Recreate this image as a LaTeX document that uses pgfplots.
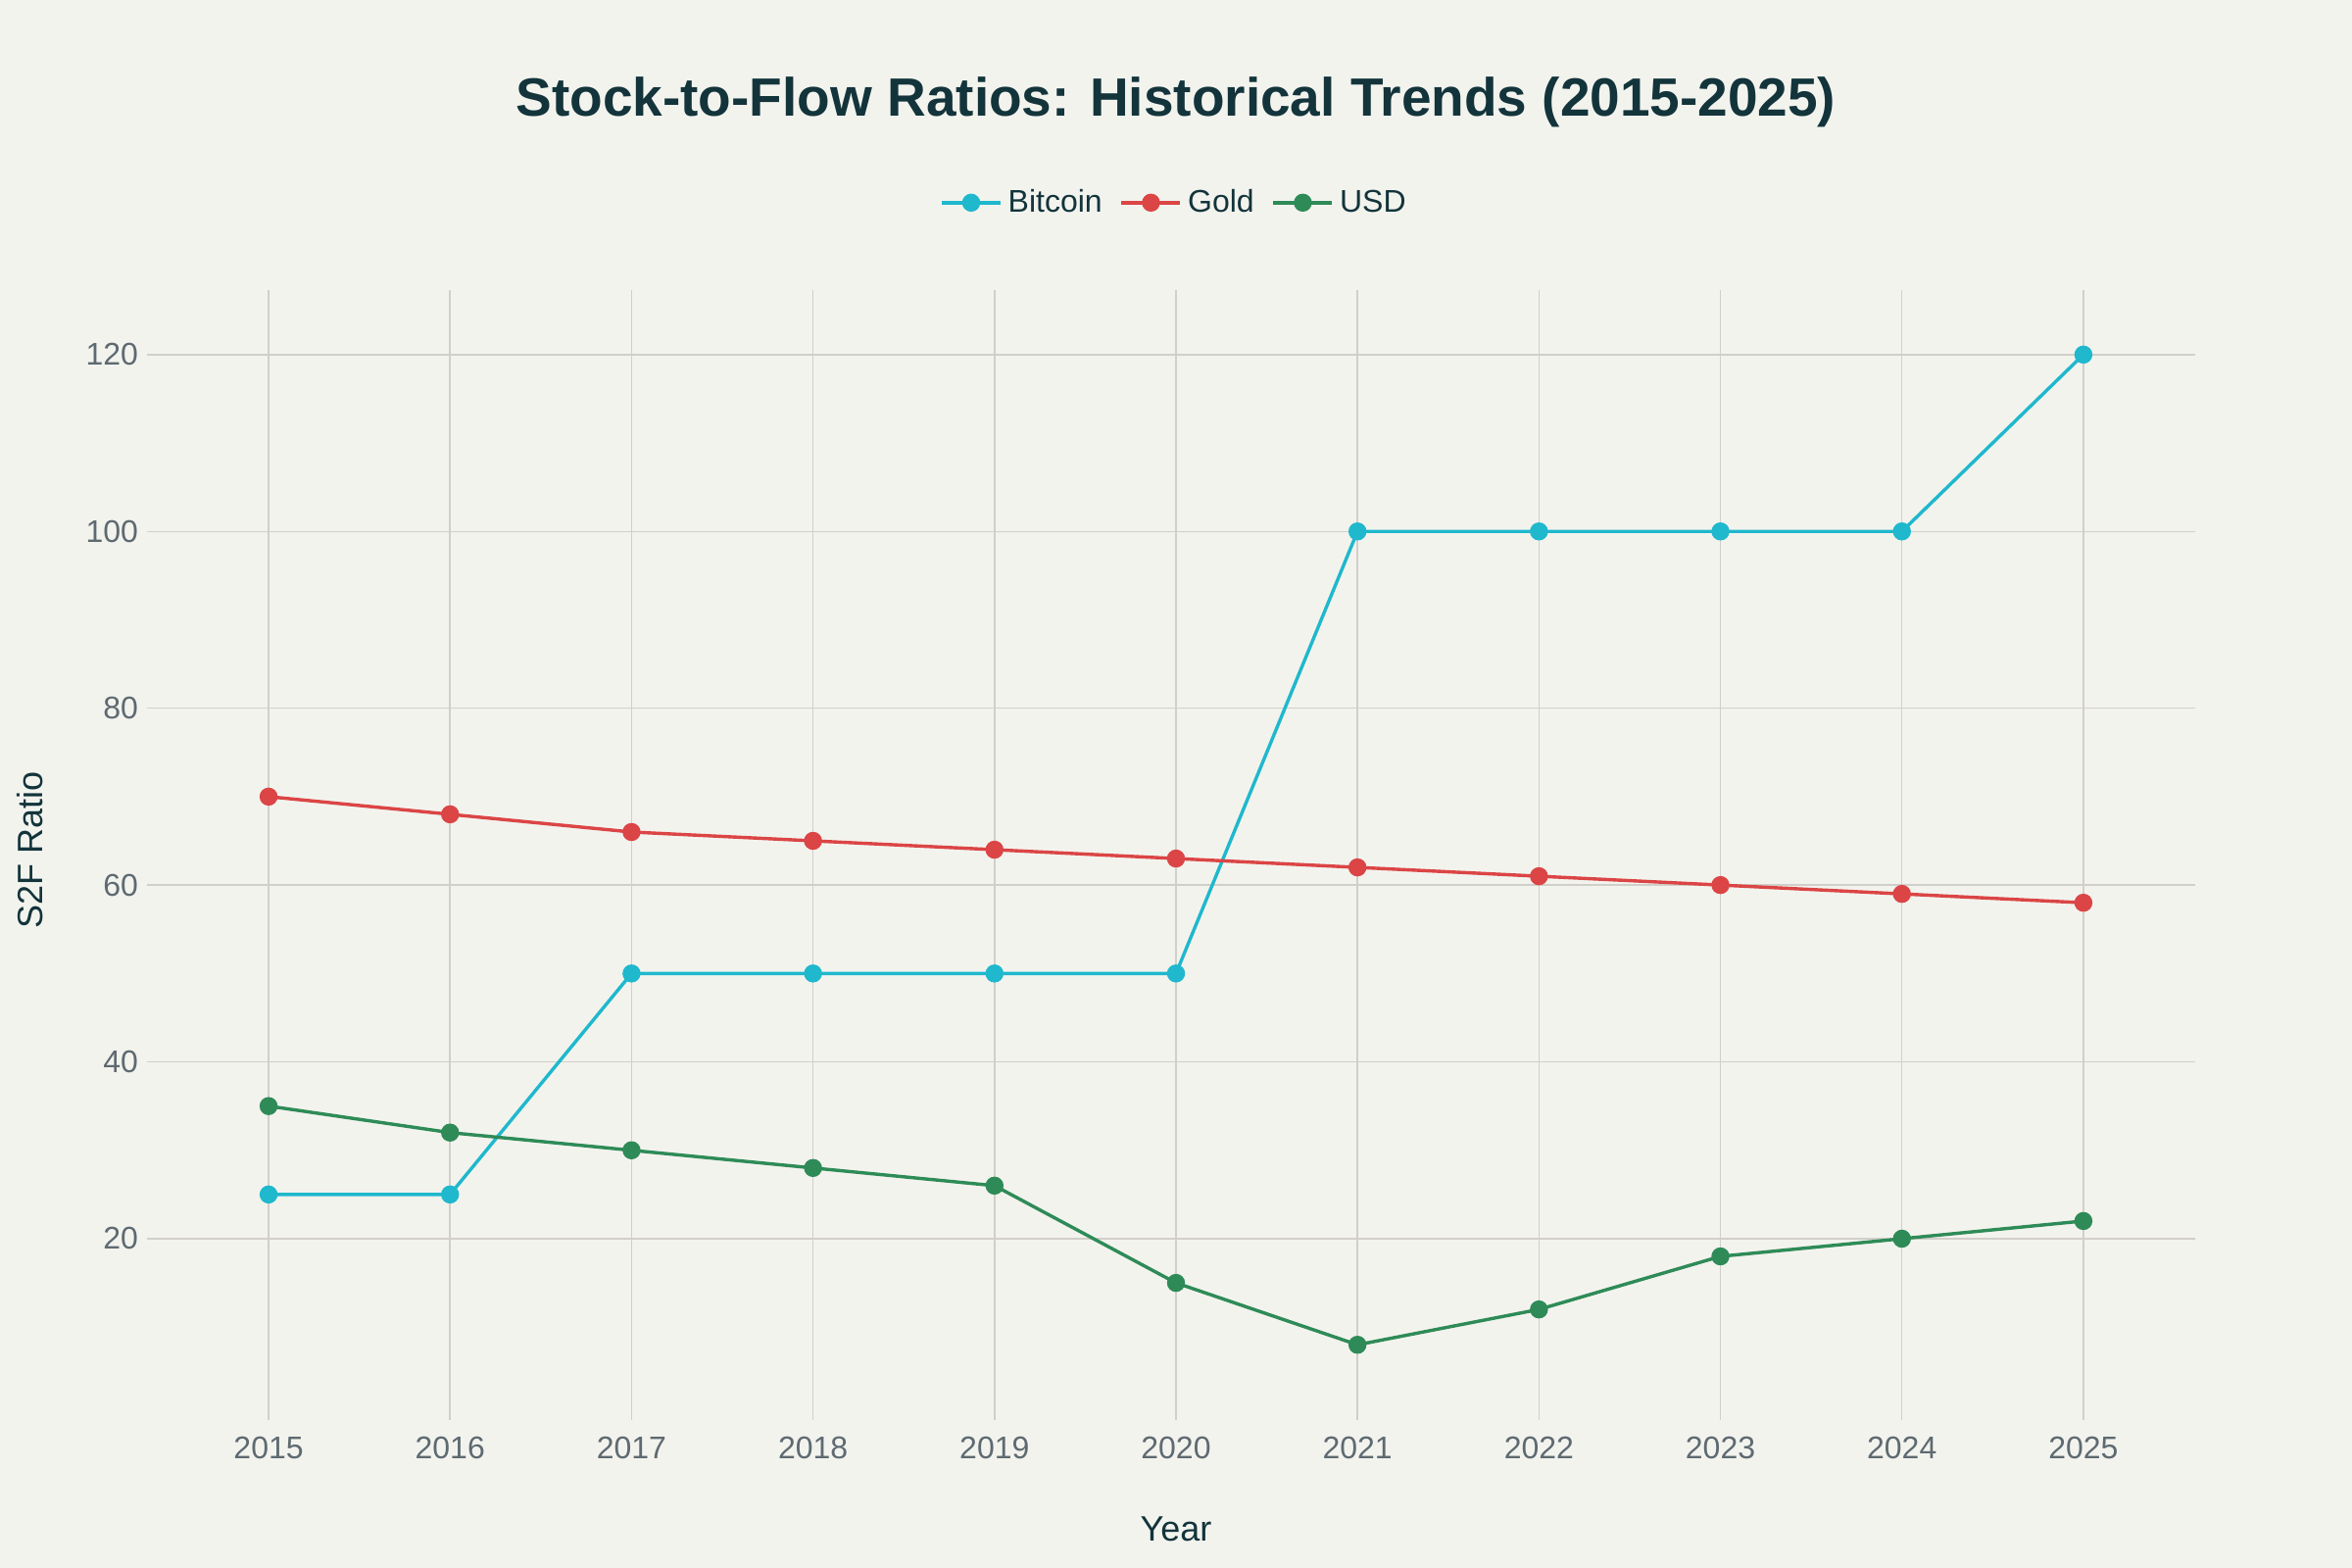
\documentclass[border=0pt]{standalone}
\usepackage{pgfplots}
\pgfplotsset{compat=1.18}
\usepackage{fontspec}
\setmainfont{Liberation Sans}

\definecolor{bg}{HTML}{F3F3EE}
\definecolor{btc}{HTML}{1FB8CD}
\definecolor{gold}{HTML}{DB4545}
\definecolor{usd}{HTML}{2E8B57}
\definecolor{titlec}{HTML}{13343B}
\definecolor{tickc}{HTML}{5E6A71}
\definecolor{gridc}{HTML}{D1CFCA}

\begin{document}
\begin{tikzpicture}
\path[use as bounding box, fill=bg] (0pt,0pt) rectangle (1200pt,800pt);
\begin{axis}[
  at={(80pt,80.5pt)}, anchor=south west,
  scale only axis, width=1040pt, height=571.5pt,
  xmin=2014.384, xmax=2025.616,
  ymin=0.6, ymax=127.3,
  xtick={2015,2016,...,2025},
  ytick={20,40,...,120},
  xtick pos=bottom, ytick pos=left,
  tick align=outside, major tick length=5pt,
  major tick style={draw=gridc, line width=0.75pt},
  axis line style={draw=none},
  grid=major,
  major grid style={draw=gridc, line width=0.75pt},
  tick label style={font=\fontsize{16}{18}\selectfont, text=tickc},
  /pgf/number format/assume math mode=true,
  x tick label style={/pgf/number format/1000 sep={}, yshift=-5pt},
  yticklabel style={xshift=-1pt},
  title={\fontsize{27.5}{32}\selectfont\bfseries Stock-to-Flow Ratios: Historical Trends (2015-2025)},
  title style={at={(axis description cs:0.5,1.157)}, anchor=center, yshift=0pt, text=titlec},
  xlabel={Year}, ylabel={S2F Ratio},
  every axis x label/.style={at={(axis description cs:0.5,-0.1059)}, anchor=center, font=\fontsize{18}{20}\selectfont, text=titlec},
  every axis y label/.style={at={(axis description cs:-0.062,0.5)}, anchor=center, rotate=90, font=\fontsize{18}{20}\selectfont, text=titlec},
  legend style={at={(axis description cs:0.5,1.078)}, anchor=center, draw=none, fill=none,
    legend columns=-1, font=\fontsize{16}{18}\selectfont, text=titlec,
    /tikz/every even column/.append style={column sep=6pt},
    nodes={inner xsep=3pt}},
  legend image code/.code={\draw[mark repeat=2, mark phase=2, #1] plot coordinates {(0pt,0pt) (15pt,0pt) (30pt,0pt)};},
  every axis plot/.append style={line width=1.7pt, mark=*, mark size=3.75pt, mark options={solid, line width=0pt}},
]
\addplot[btc, mark options={fill=btc, draw=btc}] coordinates {
(2015,25) (2016,25) (2017,50) (2018,50) (2019,50) (2020,50) (2021,100) (2022,100) (2023,100) (2024,100) (2025,120)};
\addplot[gold, mark options={fill=gold, draw=gold}] coordinates {
(2015,70) (2016,68) (2017,66) (2018,65) (2019,64) (2020,63) (2021,62) (2022,61) (2023,60) (2024,59) (2025,58)};
\addplot[usd, mark options={fill=usd, draw=usd}] coordinates {
(2015,35) (2016,32) (2017,30) (2018,28) (2019,26) (2020,15) (2021,8) (2022,12) (2023,18) (2024,20) (2025,22)};
\legend{Bitcoin, Gold, USD}
\end{axis}
\end{tikzpicture}
\end{document}
